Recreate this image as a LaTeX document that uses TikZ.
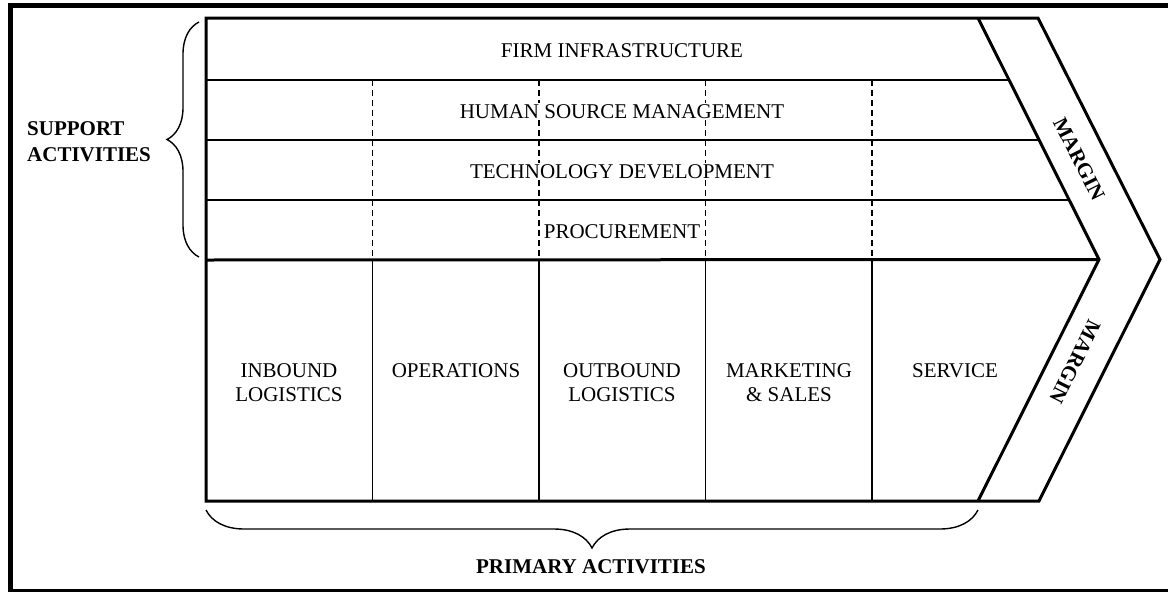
\documentclass[tikz,border=0pt]{standalone}
\usepackage{fontspec}
\setmainfont{Liberation Serif}
\usetikzlibrary{calc}
\usetikzlibrary{decorations.pathreplacing}
\tikzset{%
  outline/.style={line width=3pt, line join=miter},
  rowline/.style={line width=1.6pt},
  colline/.style={line width=1.1pt},
  dashcol/.style={line width=1.1pt, dash pattern=on 6pt off 4pt},
  lbl/.style={font=\fontsize{21}{24}\selectfont, align=center, inner sep=1pt},
  boldlbl/.style={font=\fontsize{21}{26}\selectfont\bfseries, align=left, inner sep=0pt},
  bracket/.style={line width=1.4pt, decorate, decoration={brace, amplitude=#1}},
  bracket/.default=32,
}

\begin{document}
\begin{tikzpicture}[x=1pt,y=-1pt]
              \useasboundingbox (0,0) rectangle (1168,592);
              \draw[line width=5pt] (10.5,5.5) rectangle (1180,591);
              \coordinate (TL) at (206,18);
              \coordinate (ML) at (206,260);
              \coordinate (BL) at (206,501);
              \coordinate (IT) at (978,18);
              \coordinate (IM) at (1099,259.5);
              \coordinate (IB) at (978,501);
              \coordinate (OT) at (1038,18);
              \coordinate (OM) at (1160,259.5);
              \coordinate (OB) at (1039,501);
              \draw[rowline] (206,80) -- ($(IT)!{62/241.5}!(IM)$);
              \draw[rowline] (206,140) -- ($(IT)!{122/241.5}!(IM)$);
              \draw[rowline] (206,200) -- ($(IT)!{182/241.5}!(IM)$);
              \foreach \x in {372.5,539,705.5,872}{
                \draw[dashcol] (\x,80) -- (\x,260);
                \draw[colline] (\x,260) -- (\x,501);
              }
              \node[lbl,fill=white,anchor=base] (firm) at (622,57) {FIRM INFRASTRUCTURE};
              \node[lbl,fill=white,anchor=base] (hrm) at (622,118) {HUMAN SOURCE MANAGEMENT};
              \node[lbl,fill=white,anchor=base] (tech) at (622,178) {TECHNOLOGY DEVELOPMENT};
              \node[lbl,fill=white,anchor=base] (proc) at (622,238) {PROCUREMENT};
              \node[lbl,anchor=base] (inbound) at (289,401) {INBOUND\\LOGISTICS};
              \node[lbl,anchor=base] (ops) at (456,377) {OPERATIONS};
              \node[lbl,anchor=base] (outbound) at (622,401) {OUTBOUND\\LOGISTICS};
              \node[lbl,anchor=base] (mkt) at (789,401) {MARKETING\\\& SALES};
              \node[lbl,anchor=base] (serv) at (955,377) {SERVICE};
              \draw[outline] (TL) -- (OT) -- (OM) -- (OB) -- (BL) -- cycle;
              \draw[outline] (IT) -- (IM) -- (IB);
              \draw[outline] (ML) -- (IM);
              \node[lbl,font=\fontsize{21}{24}\selectfont\bfseries,rotate=-63.2] (marginA) at (1079,159) {MARGIN};
              \node[lbl,font=\fontsize{21}{24}\selectfont\bfseries,rotate=-116.6] (marginB) at (1075,362) {MARGIN};
              \draw[bracket] (199,257) -- (199,22);
              \draw[bracket=38] (978,510) -- (206,510);
              \node[boldlbl,anchor=base west] (support) at (27,161) {SUPPORT\\ACTIVITIES};
              \node[boldlbl,anchor=base] (primary) at (591,573) {PRIMARY ACTIVITIES};
          \end{tikzpicture}
\end{document}
